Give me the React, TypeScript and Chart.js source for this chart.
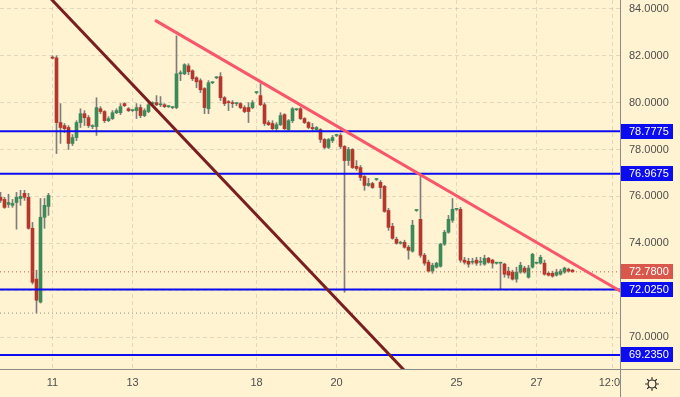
import React, { useEffect, useRef } from "react";
import { Chart, registerables } from "chart.js";
Chart.register(...registerables);

// ---- data (candle index = position in arrays) ----
const opens = [
  75.96, 75.87, 75.66, 75.62, 75.74, 75.91, 76.13, 75.96, 74.64, 72.47,
  71.49, 75.11, 75.57, 81.91, 81.91, 79.15, 79.02, 78.94, 78.26, 78.51,
  79.15, 79.53, 79.36, 78.98, 78.98, 79.74, 79.62, 79.23, 79.32, 79.57,
  79.57, 79.96, 79.74, 79.66, 79.66, 79.79, 79.45, 79.62, 79.96, 80.0,
  79.91, 79.91, 79.83, 79.79, 79.79, 81.23, 81.23, 81.57, 81.36, 81.06,
  80.94, 80.6, 79.74, 80.85, 81.06, 81.11, 80.21, 80.04, 80.0, 79.96,
  79.96, 79.79, 79.79, 79.79, 80.43, 80.3, 79.91, 79.15, 79.11, 78.89,
  79.06, 79.49, 78.85, 79.23, 79.7, 79.74, 79.32, 79.15, 78.94, 78.85,
  78.85, 78.43, 78.09, 78.38, 78.6, 78.6, 78.13, 77.53, 78.0, 77.28,
  77.23, 76.85, 76.47, 76.55, 76.72, 76.6, 76.43, 75.4, 74.72, 74.17,
  74.0, 74.04, 73.83, 73.66, 75.4, 75.02, 73.49, 73.19, 72.81, 72.98,
  73.02, 73.96, 74.47, 74.98, 75.45, 75.45, 73.28, 73.23, 73.19, 73.28,
  73.19, 73.11, 73.36, 73.28, 73.15, 73.15, 73.11, 72.81, 72.77, 72.47,
  72.77, 72.94, 72.55, 72.98, 73.15, 73.15, 73.15, 72.72, 72.72, 72.64,
  72.68, 72.77, 72.89, 72.85,
];
const highs = [
  76.17, 75.96, 76.09, 75.87, 76.17, 76.26, 76.26, 76.13, 74.89, 72.85,
  75.91, 75.91, 76.13, 82.0, 82.0, 79.96, 79.11, 79.02, 78.64, 79.23,
  79.74, 79.66, 79.45, 79.06, 80.21, 79.83, 79.66, 79.4, 79.66, 79.74,
  79.96, 80.0, 79.79, 79.7, 79.96, 79.91, 79.74, 80.0, 80.04, 80.3,
  80.26, 79.96, 79.87, 79.83, 82.85, 81.36, 81.66, 81.66, 81.4, 81.11,
  81.02, 80.64, 80.94, 80.89, 81.11, 81.28, 80.26, 80.09, 80.09, 80.0,
  80.0, 79.87, 80.0, 80.09, 80.47, 80.81, 80.0, 79.23, 79.23, 79.15,
  79.57, 79.53, 79.28, 79.79, 79.74, 79.79, 79.36, 79.19, 79.11, 78.98,
  78.89, 78.47, 78.47, 78.6, 78.64, 78.68, 78.17, 78.09, 78.04, 77.53,
  77.32, 76.89, 76.77, 76.6, 76.77, 76.68, 76.47, 75.49, 74.85, 74.26,
  74.09, 74.13, 73.91, 74.98, 75.42, 76.89, 73.57, 73.28, 73.15, 73.19,
  74.0, 74.55, 75.19, 75.91, 75.49, 75.53, 73.4, 73.36, 73.36, 73.4,
  73.4, 73.49, 73.4, 73.32, 73.19, 73.19, 73.15, 72.98, 72.85, 72.98,
  73.19, 73.02, 73.06, 73.57, 73.19, 73.49, 73.28, 72.77, 72.81, 72.89,
  72.89, 72.98, 72.94, 72.89,
];
const lows = [
  75.74, 75.49, 75.53, 75.53, 74.6, 75.62, 75.83, 74.6, 72.26, 71.02,
  71.45, 74.64, 75.19, 81.87, 77.83, 78.26, 78.72, 78.0, 78.17, 78.38,
  78.94, 79.02, 78.94, 78.89, 78.6, 79.53, 79.15, 79.19, 79.28, 79.53,
  79.49, 79.83, 79.62, 79.62, 79.32, 79.36, 79.4, 79.57, 79.91, 79.87,
  79.83, 79.79, 79.79, 79.74, 79.74, 80.94, 81.19, 81.19, 80.94, 80.64,
  80.43, 79.53, 79.53, 80.81, 81.02, 80.09, 79.87, 79.66, 79.79, 79.87,
  79.74, 79.57, 79.15, 79.74, 80.38, 79.87, 79.02, 79.02, 78.85, 78.81,
  79.02, 78.85, 78.81, 79.15, 79.66, 79.28, 79.11, 78.89, 78.81, 78.81,
  78.3, 78.04, 78.04, 78.3, 78.55, 78.04, 71.91, 77.32, 77.19, 77.11,
  76.68, 76.26, 76.43, 76.34, 76.68, 75.91, 75.32, 74.55, 74.17, 73.96,
  73.96, 73.79, 73.32, 73.62, 75.36, 73.4, 73.06, 72.77, 72.72, 72.94,
  72.98, 73.91, 74.43, 74.89, 75.4, 73.19, 73.11, 72.98, 73.11, 73.06,
  73.06, 73.06, 73.15, 72.94, 73.11, 72.04, 72.55, 72.51, 72.43, 72.34,
  72.72, 72.72, 72.51, 72.94, 73.11, 73.11, 72.64, 72.6, 72.55, 72.6,
  72.64, 72.72, 72.77, 72.77,
];
const closes = [
  75.83, 75.53, 75.74, 75.7, 75.96, 76.0, 75.96, 74.64, 72.34, 71.57,
  75.11, 75.62, 76.04, 81.9, 79.15, 78.94, 78.89, 78.26, 78.51, 79.15,
  79.53, 79.36, 79.02, 78.98, 79.79, 79.62, 79.23, 79.32, 79.57, 79.66,
  79.83, 79.87, 79.66, 79.66, 79.79, 79.45, 79.66, 79.91, 79.96, 79.91,
  79.91, 79.83, 79.83, 79.79, 81.23, 81.28, 81.62, 81.32, 81.02, 80.89,
  80.55, 79.79, 80.85, 80.85, 81.06, 80.21, 79.96, 80.0, 79.96, 79.96,
  79.79, 79.62, 79.62, 80.0, 80.43, 79.91, 79.11, 79.06, 78.89, 79.06,
  79.45, 78.89, 79.23, 79.74, 79.7, 79.32, 79.15, 78.94, 78.89, 78.94,
  78.43, 78.09, 78.43, 78.51, 78.6, 78.13, 77.53, 78.0, 77.23, 77.19,
  76.81, 76.47, 76.55, 76.38, 76.72, 76.38, 75.36, 74.68, 74.21, 74.0,
  74.04, 73.83, 73.7, 74.77, 75.4, 73.49, 73.15, 72.81, 73.06, 73.15,
  73.96, 74.47, 75.02, 75.45, 75.45, 73.28, 73.19, 73.11, 73.19, 73.15,
  73.19, 73.36, 73.19, 73.15, 73.15, 73.15, 72.68, 72.64, 72.47, 72.77,
  73.06, 72.77, 72.94, 73.53, 73.15, 73.4, 72.68, 72.64, 72.6, 72.77,
  72.81, 72.94, 72.81, 72.78,
];

const xTickPos = [13, 33, 64, 84, 114, 134, 153];
const xTickLabels = ["11", "13", "18", "20", "25", "27", "12:00"];

const levelValues = [78.7775, 76.9675, 72.025, 69.235];
const lastPrice = 72.78;
const prevLow = 71.02;

const upperTrendX = [38.9, 154.9];
const upperTrendY = [83.49, 71.96];
const lowerTrendX = [8, 106];
const lowerTrendY = [85.26, 67.67];

const xMin = -0.125;
const xMax = 154.875;
const yMin = 68.635;
const yMax = 84.38;

// ---- styles ----
const BG = "#fff3d1";
const UP = "#3d8a59";
const DOWN = "#b3372a";
const WICK = "#7d7d7d";
const BLUE = "#0c0cf0";
const LAST_RED = "#d9574b";
const PINK = "#f8566b";
const DARK_RED = "#7a1f1f";
const GRID = "rgba(110,110,110,0.20)";
const TEXT = "#4e4e4e";
const AXIS = "#8a8a8a";
const FONT = "'Liberation Sans', Arial, sans-serif";

const overlayPlugin = {
  id: "overlay",
  beforeDraw(chart: any) {
    const { ctx, width, height } = chart;
    ctx.save();
    ctx.fillStyle = BG;
    ctx.fillRect(0, 0, width, height);
    ctx.restore();
  },
  afterDraw(chart: any) {
    const { ctx, chartArea, width, height } = chart;
    const yScale = chart.scales.y;
    const right = chartArea.right;
    const bottom = chartArea.bottom;
    ctx.save();
    // hide x label overflow into price panel
    ctx.fillStyle = BG;
    ctx.fillRect(right, bottom + 1, width - right, height - bottom);
    // axis lines
    ctx.strokeStyle = AXIS;
    ctx.lineWidth = 1;
    ctx.beginPath();
    ctx.moveTo(Math.round(right) + 0.5, 0);
    ctx.lineTo(Math.round(right) + 0.5, height);
    ctx.moveTo(0, Math.round(bottom) + 0.5);
    ctx.lineTo(width, Math.round(bottom) + 0.5);
    ctx.stroke();
    // price boxes
    const boxes: [number, string, string][] = [
      [levelValues[0], BLUE, levelValues[0].toFixed(4)],
      [levelValues[1], BLUE, levelValues[1].toFixed(4)],
      [lastPrice, LAST_RED, lastPrice.toFixed(4)],
      [levelValues[2], BLUE, levelValues[2].toFixed(4)],
      [levelValues[3], BLUE, levelValues[3].toFixed(4)],
    ];
    ctx.font = `11px ${FONT}`;
    ctx.textBaseline = "middle";
    ctx.textAlign = "left";
    for (const [v, color, label] of boxes) {
      const y = yScale.getPixelForValue(v);
      ctx.fillStyle = color;
      ctx.fillRect(right + 1, Math.round(y - 7.5), 52, 15);
      ctx.fillStyle = "#ffffff";
      ctx.fillText(label, right + 9, y + 0.5);
    }
    // settings icon
    const cx = 652, cy = 384;
    ctx.strokeStyle = "#222";
    ctx.lineWidth = 1.2;
    ctx.beginPath();
    ctx.arc(cx, cy, 4, 0, Math.PI * 2);
    ctx.stroke();
    ctx.beginPath();
    for (let k = 0; k < 8; k++) {
      const a = (k * Math.PI) / 4;
      ctx.moveTo(cx + Math.cos(a) * 4.5, cy + Math.sin(a) * 4.5);
      ctx.lineTo(cx + Math.cos(a) * 6.8, cy + Math.sin(a) * 6.8);
    }
    ctx.stroke();
    ctx.restore();
  },
};

function hLine(v: number) {
  return [
    { x: xMin, y: v },
    { x: xMax, y: v },
  ];
}

function zeroPadding(scale: any) {
  scale.paddingTop = 0;
  scale.paddingBottom = 0;
  scale.paddingLeft = 0;
  scale.paddingRight = 0;
}

export default function App() {
  const ref = useRef<HTMLCanvasElement | null>(null);
  useEffect(() => {
    document.body.style.margin = "0";
    if (!ref.current) return;
    const idx = opens.map((_, i) => i);
    const bodyColors = idx.map((i) => (closes[i] >= opens[i] ? UP : DOWN));
    const lineBase = {
      type: "line" as const,
      pointRadius: 0,
      fill: false,
      tension: 0,
      order: 0,
    };
    const datasets: any[] = [
      {
        ...lineBase,
        label: "upper trend",
        data: upperTrendX.map((x, i) => ({ x, y: upperTrendY[i] })),
        borderColor: PINK,
        borderWidth: 3,
        borderCapStyle: "round",
      },
      {
        ...lineBase,
        label: "lower trend",
        data: lowerTrendX.map((x, i) => ({ x, y: lowerTrendY[i] })),
        borderColor: DARK_RED,
        borderWidth: 3,
      },
      ...levelValues.map((v) => ({
        ...lineBase,
        label: "level " + v,
        data: hLine(v),
        borderColor: BLUE,
        borderWidth: 2,
      })),
      {
        ...lineBase,
        label: "last",
        data: hLine(lastPrice),
        borderColor: LAST_RED,
        borderWidth: 1,
        borderDash: [1, 3],
      },
      {
        ...lineBase,
        label: "prev low",
        data: hLine(prevLow),
        borderColor: "#8a8a8a",
        borderWidth: 1,
        borderDash: [1, 3],
      },
      {
        type: "bar",
        label: "body",
        data: idx.map((i) => ({ x: i, y: [opens[i], closes[i]] })),
        backgroundColor: bodyColors,
        borderWidth: 0,
        barThickness: 3,
        minBarLength: 1,
        grouped: false,
        order: 1,
      },
      {
        type: "bar",
        label: "wick",
        data: idx.map((i) => ({ x: i, y: [lows[i], highs[i]] })),
        backgroundColor: WICK,
        borderWidth: 0,
        barThickness: 1,
        grouped: false,
        order: 2,
      },
    ];
    const chart = new Chart(ref.current, {
      type: "bar",
      data: { datasets },
      options: {
        animation: false,
        responsive: false,
        devicePixelRatio: 1,
        layout: { padding: 0 },
        plugins: { legend: { display: false }, tooltip: { enabled: false } },
        scales: {
          x: {
            type: "linear",
            min: xMin,
            max: xMax,
            offset: false,
            grid: { color: GRID, drawTicks: false, offset: false },
            border: { display: false, dash: [4, 3] },
            afterBuildTicks: (scale: any) => {
              scale.ticks = xTickPos.map((v) => ({ value: v }));
            },
            afterFit: (scale: any) => {
              scale.height = 28;
              zeroPadding(scale);
            },
            ticks: {
              autoSkip: false,
              maxRotation: 0,
              padding: 7,
              color: TEXT,
              font: { family: FONT, size: 11 },
              callback: (v: any) => {
                const k = xTickPos.indexOf(Number(v));
                return k >= 0 ? xTickLabels[k] : "";
              },
            },
          },
          y: {
            type: "linear",
            position: "right",
            min: yMin,
            max: yMax,
            beginAtZero: false,
            grid: { color: GRID, drawTicks: false },
            border: { display: false, dash: [4, 3] },
            afterFit: (scale: any) => {
              scale.width = 60;
              zeroPadding(scale);
            },
            ticks: {
              stepSize: 2,
              includeBounds: false,
              padding: 9,
              color: TEXT,
              font: { family: FONT, size: 11 },
              callback: (v: any) => Number(v).toFixed(4),
            },
          },
        },
      } as any,
      plugins: [overlayPlugin],
    });
    return () => chart.destroy();
  }, []);
  return (
    <div style={{ position: "absolute", left: 0, top: 0, width: 680, height: 397 }}>
      <canvas ref={ref} width={680} height={397} style={{ display: "block" }} />
    </div>
  );
}
